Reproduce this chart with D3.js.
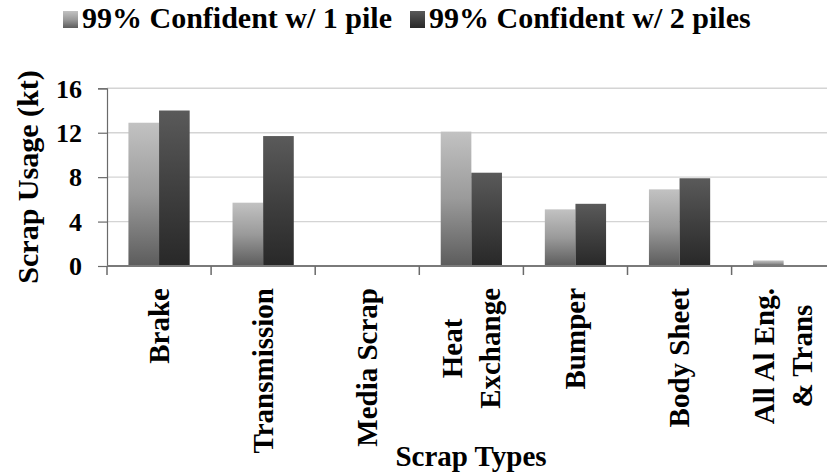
<!DOCTYPE html>
<html>
<head>
<meta charset="utf-8">
<script src="https://cdn.jsdelivr.net/npm/d3@7"></script>
<style>
  html, body { margin: 0; padding: 0; background: #fff; }
  svg { display: block; }
</style>
</head>
<body>
<script>
const categories = [["Brake"], ["Transmission"], ["Media Scrap"], ["Heat", "Exchange"], ["Bumper"], ["Body Sheet"], ["All Al Eng.", "& Trans"]];
const seriesNames = ["99% Confident w/ 1 pile", "99% Confident w/ 2 piles"];
const onePile = [12.9, 5.7, 0, 12.1, 5.1, 6.9, 0.5];
const twoPiles = [14.0, 11.7, 0, 8.4, 5.6, 7.9, 0];
const yTicks = [0, 4, 8, 12, 16];
const yTitle = "Scrap Usage (kt)";
const xTitle = "Scrap Types";

const FONT = '"Liberation Serif"';
const W = 827, H = 475;
const svg = d3.select("body").append("svg").attr("width", W).attr("height", H);
const defs = svg.append("defs");

const grads = [
  { id: "g0", top: "#c2c2c2", mid: "#9a9a9a", bot: "#5c5c5c" },
  { id: "g1", top: "#5a5a5a", mid: "#404040", bot: "#282828" }
];
grads.forEach(g => {
  const lg = defs.append("linearGradient").attr("id", g.id)
    .attr("x1", 0).attr("y1", 0).attr("x2", 0).attr("y2", 1);
  lg.append("stop").attr("offset", "0%").attr("stop-color", g.top);
  lg.append("stop").attr("offset", "50%").attr("stop-color", g.mid);
  lg.append("stop").attr("offset", "100%").attr("stop-color", g.bot);
});

function txt(sel, size) {
  return sel.attr("font-family", FONT).attr("font-weight", "bold").attr("font-size", size).attr("fill", "#000");
}

const plotL = 107, plotR = 835.7, plotT = 88.3, plotB = 266;
const keys = categories.map(c => c.join(" "));
const x0 = d3.scaleBand().domain(keys).range([plotL, plotR]).paddingInner(0).paddingOuter(0);
const x1 = d3.scaleBand().domain([0, 1]).range([0, x0.bandwidth()]).paddingInner(0).paddingOuter(0.7);
const y = d3.scaleLinear().domain([0, 16]).range([plotB, plotT]);

// gridlines
svg.append("g").selectAll("line").data(yTicks.filter(d => d > 0)).join("line")
  .attr("x1", plotL).attr("x2", W).attr("y1", d => y(d)).attr("y2", d => y(d))
  .attr("stroke", "#d4d4d4").attr("stroke-width", 1.4);

// bars
const series = [onePile, twoPiles];
series.forEach((vals, si) => {
  svg.append("g").selectAll("rect").data(vals).join("rect")
    .attr("x", (d, i) => x0(keys[i]) + x1(si))
    .attr("width", x1.bandwidth())
    .attr("y", d => y(d))
    .attr("height", d => plotB - y(d))
    .attr("fill", `url(#g${si})`);
});

// y axis
const yAxis = svg.append("g").attr("transform", `translate(${plotL},0)`)
  .call(d3.axisLeft(y).tickValues(yTicks).tickSize(9).tickFormat(d3.format("d")));
yAxis.attr("font-family", null).attr("font-size", null);
yAxis.select(".domain").attr("stroke", "#6a6a6a").attr("stroke-width", 1.2);
yAxis.selectAll(".tick line").attr("stroke", "#6a6a6a").attr("stroke-width", 1.2);
txt(yAxis.selectAll(".tick text"), 26).attr("x", -25).attr("dy", "0.34em");

// x axis line and ticks
svg.append("line").attr("x1", plotL).attr("x2", W).attr("y1", plotB).attr("y2", plotB)
  .attr("stroke", "#7a7a7a").attr("stroke-width", 2);
const bounds = keys.map(k => x0(k));
svg.append("g").selectAll("line").data(bounds).join("line")
  .attr("x1", d => d).attr("x2", d => d).attr("y1", plotB).attr("y2", plotB + 9)
  .attr("stroke", "#6a6a6a").attr("stroke-width", 1.5);

// x category labels
const labelTop = 288, lineGap = 38;
categories.forEach((lines, i) => {
  const cx = x0(keys[i]) + x0.bandwidth() / 2;
  const g = svg.append("g");
  const texts = lines.map(t => txt(g.append("text"), 29).text(t));
  const maxLen = d3.max(texts, t => t.node().getComputedTextLength());
  const n = lines.length;
  const cy = labelTop + maxLen / 2;
  g.attr("transform", `translate(${cx},${cy}) rotate(-90)`);
  texts.forEach((t, li) => {
    t.attr("x", 0).attr("y", (li - (n - 1) / 2) * lineGap).attr("dy", "0.33em")
      .attr("text-anchor", "middle");
  });
});

// y title
txt(svg.append("text"), 30).attr("transform", `translate(28,177) rotate(-90)`)
  .attr("text-anchor", "middle").attr("dy", "0.33em").text(yTitle);

// x title
txt(svg.append("text"), 29).attr("x", 471).attr("y", 466).attr("text-anchor", "middle").text(xTitle);

// legend
const legX = [63, 410];
seriesNames.forEach((name, i) => {
  svg.append("rect").attr("x", legX[i]).attr("y", 11).attr("width", 15).attr("height", 17)
    .attr("fill", `url(#g${i})`);
  txt(svg.append("text"), 30).attr("x", legX[i] + 19).attr("y", 28).text(name);
});
</script>
</body>
</html>
